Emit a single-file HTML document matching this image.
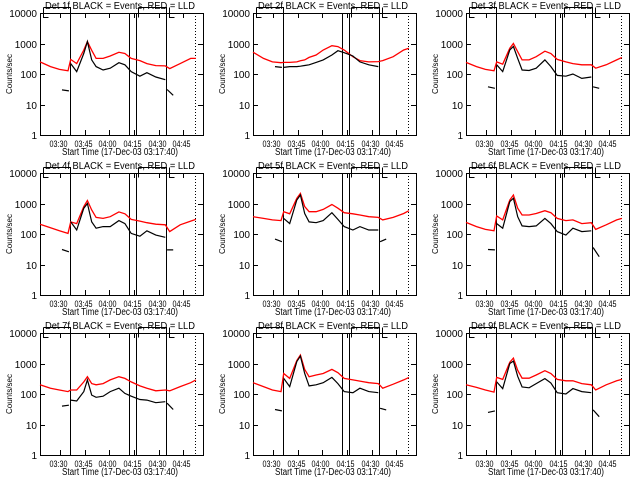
<!DOCTYPE html>
<html><head><meta charset="utf-8"><style>
html,body{margin:0;padding:0;background:#fff;}
svg{display:block;}
text{font-family:"Liberation Sans",sans-serif;fill:#000;}
</style></head><body>
<svg id="chart" width="640" height="480" viewBox="0 0 640 480" xmlns="http://www.w3.org/2000/svg"></svg>
<script>
// time samples, minutes after 03:17:40
const redTimes = [0,6.4,11.8,17.1,18.7,22.4,26.7,28.9,31.5,34.2,38.5,42.8,48.1,51.8,55.6,60.9,65.2,70.6,76.4,79.1,85.5,91.9,95.1];
// black times; null = gap
const blackTimes = [13.4,17.6,null,18.7,22.4,26.7,28.9,31.5,34.2,38.5,42.8,48.1,51.8,55.6,60.9,65.2,70.6,76.4,null,77.5,81.2];
const detLabels = ["1f","2f","3f","4f","5f","6f","7f","8f","9f"];
const det1Red = [250,175,142,127,300,220,610,1150,600,325,325,390,515,470,325,275,220,188,185,150,220,325,325];
const det1Black = [30,28,null,220,120,475,1150,290,175,135,155,235,200,120,85,110,80,65,null,31,20];
const det2Red = [520,325,250,235,240,240,250,270,290,350,420,610,850,790,610,370,275,250,255,275,370,610,700];
const det2Black = [175,165,null,165,175,175,180,190,200,240,290,420,580,500,390,250,200,175,185,null,200,105];
const det3Red = [240,175,142,127,250,210,700,1000,540,290,290,370,560,470,300,250,220,200,200,155,200,290,350];
const det3Black = [38,34,null,200,120,610,800,325,135,130,155,290,175,90,85,100,72,80,null,38,34];
const det4Red = [210,160,127,105,250,220,790,1250,610,350,325,370,530,460,300,265,235,210,200,120,200,265,300];
const det4Black = [31,26,null,250,135,700,1000,250,155,175,175,275,220,105,85,127,92,78,null,30,30];
const det5Red = [370,325,290,275,540,460,1480,2150,790,540,540,640,930,700,500,460,420,370,350,290,350,470,580];
const det5Black = [68,56,null,325,220,1300,1900,470,250,235,275,500,300,175,135,175,135,135,null,56,68];
const det6Red = [240,175,142,127,390,290,1300,1900,700,420,420,470,580,500,325,275,290,220,235,142,200,290,325];
const det6Black = [31,30,null,220,155,1150,1480,370,185,175,185,325,220,120,92,155,120,127,null,36,18];
const det7Red = [200,155,135,120,135,135,250,370,220,200,220,290,370,325,250,185,155,127,135,127,175,235,290];
const det7Black = [40,43,null,63,59,120,290,92,78,85,120,155,105,85,66,63,52,56,null,50,31];
const det8Red = [235,175,135,120,470,325,1250,1900,640,370,420,470,640,500,325,290,265,235,220,155,210,290,350];
const det8Black = [31,28,null,325,175,1150,1750,470,185,200,235,350,220,120,110,155,120,110,null,34,30];
const det9Red = [200,165,135,115,350,300,1100,1500,600,330,330,420,580,470,300,270,270,220,200,135,200,270,300];
const det9Black = [25,28,null,250,150,1000,1200,380,170,160,220,320,230,110,100,150,120,110,null,30,18];
const redSeries = [det1Red,det2Red,det3Red,det4Red,det5Red,det6Red,det7Red,det8Red,det9Red];
const blackSeries = [det1Black,det2Black,det3Black,det4Black,det5Black,det6Black,det7Black,det8Black,det9Black];
const xTickLabels = ["03:30","03:45","04:00","04:15","04:30","04:45"];
const xTickMinutes = [12.33,27.33,42.33,57.33,72.33,87.33];
const yTickValues = [1,10,100,1000,10000];
const yTickLabels = ["1","10","100","1000","10000"];
const solidLineMinutes = [18.3,54.3,58.5,76.8];
const dottedLineMinutes = [94.5];

const NS="http://www.w3.org/2000/svg";
const svg=document.getElementById('chart');
function mk(tag,attrs,parent){const e=document.createElementNS(NS,tag);for(const k in attrs)e.setAttribute(k,attrs[k]);parent.appendChild(e);return e;}
const X0=40,X1=203,Y0=13,Y1=135,TMAX=99.4;
const px=v=>Math.round(v)+0.5;

for(let p=0;p<9;p++){
  const ox=(p%3)*213, oy=Math.floor(p/3)*160;
  const g=mk('g',{transform:`translate(${ox},${oy})`},svg);
  
  
  const xs=t=>X0+(t/TMAX)*(X1-X0);
  const ys=v=>Y1-(Math.log10(v)/4)*(Y1-Y0);
  const box=mk('rect',{x:X0+0.5,y:Y0+0.5,width:X1-X0,height:Y1-Y0,fill:'none',stroke:'#000','stroke-width':1,'shape-rendering':'crispEdges'},g);
  
  
  yTickValues.forEach((v,i)=>{
    const y=px(ys(v));
    mk('line',{x1:X0,x2:X0+5,y1:y,y2:y,stroke:'#000','shape-rendering':'crispEdges'},g);
    mk('line',{x1:X1,x2:X1-5,y1:y,y2:y,stroke:'#000','shape-rendering':'crispEdges'},g);
    const t=mk('text',{x:X0-3,y:y+3.5,'font-size':10,'text-anchor':'end'},g);
    t.textContent=yTickLabels[i];
    
    
  });
  xTickMinutes.forEach((m,i)=>{
    const x=px(xs(m));
    mk('line',{x1:x,x2:x,y1:Y1,y2:Y1-5,stroke:'#000','shape-rendering':'crispEdges'},g);
    mk('line',{x1:x,x2:x,y1:Y0,y2:Y0+5,stroke:'#000','shape-rendering':'crispEdges'},g);
    const t=mk('text',{x:x-2,y:Y1+12,'font-size':9,'text-anchor':'middle',textLength:18,lengthAdjust:'spacingAndGlyphs'},g);
    t.textContent=xTickLabels[i];
    
    
  });
  solidLineMinutes.forEach((m,i)=>{
    const x=px(xs(m));
    const l=mk('line',{x1:x,x2:x,y1:(i==0||i==3)?7:13,y2:Y1,stroke:'#000','stroke-width':1,'shape-rendering':'crispEdges'},g);
    
    
  });
  dottedLineMinutes.forEach(m=>{
    const x=px(xs(m));
    const l=mk('line',{x1:x,x2:x,y1:Y0,y2:Y1,stroke:'#000','stroke-dasharray':'1,2','shape-rendering':'crispEdges'},g);
    
    
  });
  mk('path',{d:`M43.5,7.5 L70.5,7.5 M43.5,7.5 L43.5,17.5 L48.5,17.5 M138.5,7.5 L166.5,7.5 M138.5,7.5 L138.5,17.5 M169.5,7.5 L169.5,17.5 L174.5,17.5`,fill:'none',stroke:'#000','shape-rendering':'crispEdges'},g);
  let d='';
  redSeries[p].forEach((v,i)=>{d+=(i?'L':'M')+xs(redTimes[i]).toFixed(1)+','+ys(v).toFixed(1);});
  const rp=mk('path',{d:d,fill:'none',stroke:'#f00','stroke-width':1.3},g);
  
  
  d='';let pen=false;
  blackSeries[p].forEach((v,i)=>{
    const t=blackTimes[i];
    if(v===null||t===null){pen=false;return;}
    d+=(pen?'L':'M')+xs(t).toFixed(1)+','+ys(v).toFixed(1);pen=true;
  });
  const bp=mk('path',{d:d,fill:'none',stroke:'#000','stroke-width':1.2},g);
  
  
  const ti=mk('text',{x:120,y:9,'font-size':10,'text-anchor':'middle',textLength:150,lengthAdjust:'spacingAndGlyphs'},g);
  ti.textContent='Det '+detLabels[p]+' BLACK = Events, RED = LLD';
  
  
  const xl=mk('text',{x:120,y:155,'font-size':10,'text-anchor':'middle',textLength:116,lengthAdjust:'spacingAndGlyphs'},g);
  xl.textContent='Start Time (17-Dec-03 03:17:40)';
  
  
  const yl=mk('text',{x:0,y:0,'font-size':8,'text-anchor':'middle',transform:'translate(12,74) rotate(-90)'},g);
  yl.textContent='Counts/sec';
  
  
}
</script>
</body></html>
